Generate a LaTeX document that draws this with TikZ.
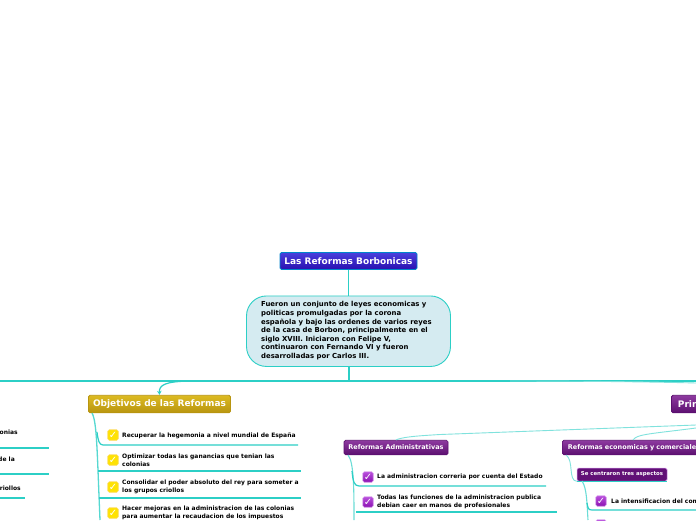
\documentclass[tikz,border=0pt]{standalone}
\usepackage{fontspec}
\setmainfont{DejaVu Sans}
\usetikzlibrary{arrows.meta}
\definecolor{enlace}{HTML}{2CCFC6}
\definecolor{azulA}{HTML}{4A40DC}
\definecolor{azulB}{HTML}{2A10B0}
\definecolor{oroA}{HTML}{DDBB22}
\definecolor{oroB}{HTML}{B89510}
\definecolor{vioA}{HTML}{8E3AA0}
\definecolor{vioB}{HTML}{5C1070}
\definecolor{vioC}{HTML}{B94FDD}
\definecolor{vioD}{HTML}{8A10B0}
\definecolor{celeste}{HTML}{D5EBF1}
\tikzset{
  enlace/.style={draw=enlace, line width=1.2pt},
  fino/.style={draw=enlace!60, line width=0.9pt},
  titulo/.style={rounded corners=1.5pt, draw=#1, line width=0.9pt, minimum height=17pt, inner sep=0pt, text=white, font=\bfseries\fontsize{9}{9}\selectfont},
  rama/.style={rounded corners=1.5pt, draw=vioB, line width=0.7pt, top color=vioA, bottom color=vioB, minimum height=14.5pt, inner sep=0pt, text=white, font=\bfseries\fontsize{6.5}{6.5}\selectfont},
  tarea/.style={anchor=west, inner sep=0pt, align=left, text=black, font=\bfseries\fontsize{6}{7.8}\selectfont},
  chkoro/.style={rounded corners=1.5pt, draw=yellow!60!orange!60, line width=0.6pt, fill=yellow!85!orange, minimum size=10.5pt, inner sep=0pt, text=white, font=\fontsize{10}{10}\selectfont},
  chkvio/.style={rounded corners=1.5pt, draw=vioC!50, line width=0.6pt, top color=vioC, bottom color=vioD, minimum size=10.5pt, inner sep=0pt, text=white, font=\fontsize{10}{10}\selectfont}
}
\begin{document}
\begin{tikzpicture}[x=1pt,y=-1pt]
  \useasboundingbox (0,0) rectangle (696,520);
  \fill[white] (0,0) rectangle (696,520);
  \clip (0,0) rectangle (696,520);
  % Centro
  \node[titulo={blue!35!cyan!80!black}, top color=azulA, bottom color=azulB, minimum width=137pt] (raiz) at (348.5,261) {Las Reformas Borbonicas};
  \node[rounded corners=20pt, draw=enlace, line width=0.9pt, fill=celeste, minimum width=204pt, minimum height=70.5pt, inner sep=0pt] (desc) at (348.5,331.2) {};
  \node[anchor=north west, inner sep=0pt, align=left, font=\bfseries\fontsize{6.9}{8.55}\selectfont] (desctxt) at (261,301.5) {Fueron un conjunto de leyes economicas y\\politicas promulgadas por la corona\\española y bajo las ordenes de varios reyes\\de la casa de Borbon, principalmente en el\\siglo XVIII. Iniciaron con Felipe V,\\continuaron con Fernando VI y fueron\\desarrolladas por Carlos III.};
  \coordinate (eje) at (349,381);
  \coordinate (ejeizq) at (0,381);
  \coordinate (ejeder) at (696,381);
  \draw[enlace] (raiz) -- (desc);
  \draw[enlace] (desc.south -| eje) -- (eje);
  \draw[enlace] (ejeizq) -- (ejeder);
  % Objetivos
  \node[titulo={oroB}, top color=oroA, bottom color=oroB, minimum width=142pt, minimum height=17.5pt] (obj) at (159.5,404) {Objetivos de las Reformas};
  \coordinate (objcurva) at (190,381);
  \draw[enlace, -{Stealth[length=4pt,width=4.5pt]}] (objcurva) .. controls (165,381.5) and (159,385) .. (obj.north);
  \coordinate (objbase) at (92,413);
  \coordinate (objfin) at (100,520);
  \draw[enlace!80, line width=1.3pt] (objbase) .. controls (97,422) and (97,450) .. (objfin);
  \node[chkoro] (o1) at (113,435) {✓};
  \node[chkoro] (o2) at (113,460) {✓};
  \node[chkoro] (o3) at (113,487) {✓};
  \node[chkoro] (o4) at (113,513) {✓};
  \node[tarea] (t1) at (122,435.5) {Recuperar la hegemonia a nivel mundial de España};
  \node[tarea] (t2) at (122,460) {Optimizar todas las ganancias que tenian las\\colonias};
  \node[tarea] (t3) at (122,486.5) {Consolidar el poder absoluto del rey para someter a\\los grupos criollos};
  \node[tarea] (t4) at (122,513) {Hacer mejoras en la administracion de las colonias\\para aumentar la recaudacion de los impuestos};
  \draw[enlace] (97,432) .. controls (98,440) and (99,445) .. (103,445) -- (298,445);
  \draw[enlace] (98,471) -- (301,471);
  \draw[enlace] (99,498) -- (301,498);
  % Izquierda
  \node[tarea, anchor=east] (i1) at (18,432) {onias};
  \node[tarea, anchor=east] (i2) at (15,459) {de la};
  \node[tarea, anchor=east] (i3) at (21,488) {riollos};
  \draw[enlace] (0,448) -- (49,448);
  \draw[enlace] (0,474) -- (49,474);
  \draw[enlace] (0,498) -- (25,498);
  % Principales
  \node[titulo={vioB}, top color=vioA, bottom color=vioB, anchor=west, minimum width=60pt, minimum height=17.5pt, text width=55pt, align=left] (prin) at (671,404) {\hspace*{4pt}Prin};
  \draw[fino] (510,381) .. controls (560,381) and (640,381.5) .. (696,383);
  % Administrativas
  \node[rama, minimum width=104pt] (adm) at (396,447.5) {Reformas Administrativas};
  \draw[fino] (adm.north) .. controls (403,437) and (415,436) .. (440,434.5) -- (696,425);
  \coordinate (admbase) at (348,455);
  \coordinate (admfin) at (354,520);
  \draw[enlace!70, line width=1.1pt] (admbase) .. controls (354,462) and (354,490) .. (admfin);
  \node[chkvio] (a1) at (368,477) {✓};
  \node[chkvio] (a2) at (368,502) {✓};
  \node[tarea] (ta1) at (377,476.5) {La administracion correria por cuenta del Estado};
  \node[tarea] (ta2) at (377,502) {Todas las funciones de la administracion publica\\debian caer en manos de profesionales};
  \draw[enlace] (352,471) .. controls (353,481) and (354,486) .. (359,486) -- (546,486);
  \draw[enlace] (356,512) -- (557,512);
  % Economicas
  \node[rama, anchor=west, minimum width=145pt, text width=140pt, align=left] (eco) at (562,447.5) {\hspace*{3pt}\mbox{Reformas economicas y comerciales}};
  \draw[fino] (633,440) .. controls (637,434) and (650,434) .. (696,428);
  \coordinate (ecobase) at (566,455);
  \node[rounded corners=1.5pt, draw=vioC!60, line width=0.5pt, fill=vioB!90!vioD, minimum width=90pt, minimum height=13pt, inner sep=0pt, text=white, font=\bfseries\fontsize{5.4}{5.4}\selectfont] (asp) at (622,474.5) {Se centraron tres aspectos};
  \draw[fino] (ecobase) .. controls (574,460) and (568,481) .. (asp.south west);
  \draw[enlace] (asp.south west) -- (asp.south east);
  \coordinate (aspbase) at (582,481);
  \coordinate (aspfin) at (588,520);
  \draw[enlace!70, line width=1.1pt] (aspbase) .. controls (587,488) and (587,505) .. (aspfin);
  \node[chkvio] (e1) at (601,501) {✓};
  \node[chkvio] (e2) at (601,525) {};
  \node[tarea] (te1) at (611,501) {La intensificacion del com};
  \draw[enlace] (587,503) .. controls (588,508) and (588,510) .. (592,510) -- (696,510);
\end{tikzpicture}
\end{document}
